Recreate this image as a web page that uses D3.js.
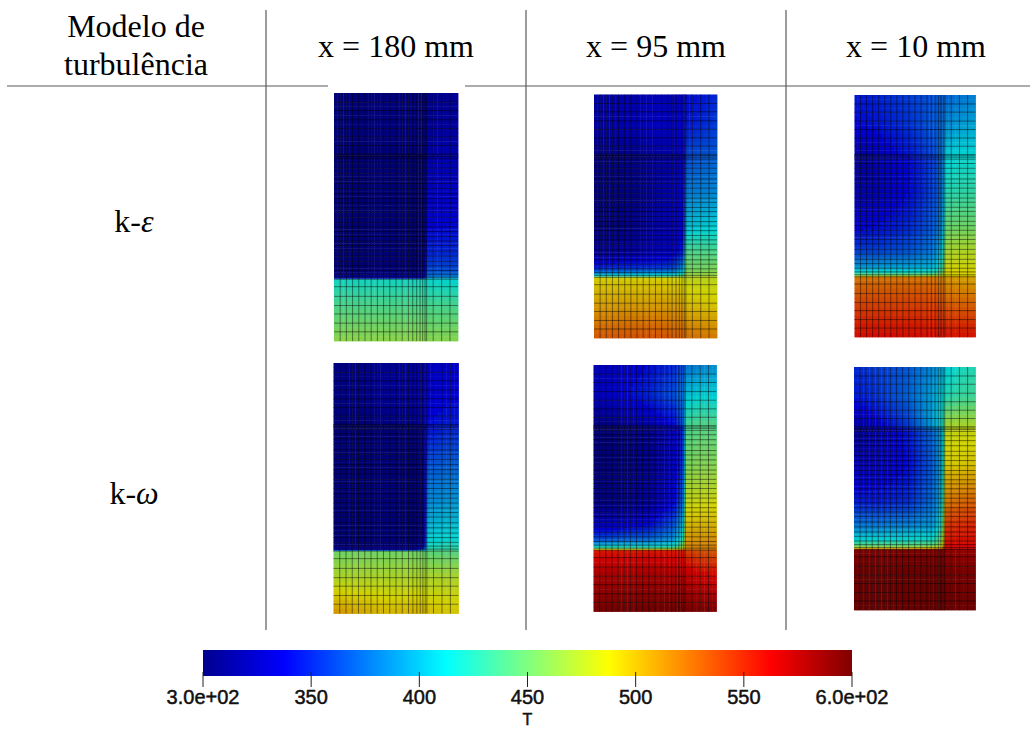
<!DOCTYPE html>
<html>
<head>
<meta charset="utf-8">
<script src="https://cdn.jsdelivr.net/npm/d3@7"></script>
<style>
    html, body { margin: 0; padding: 0; background: #fff; }
    svg { display: block; }
    .head { font-family: "Liberation Serif", serif; font-size: 32px; fill: #000; text-anchor: middle; }
    .bar-label { font-family: "Liberation Sans", sans-serif; font-size: 20px; fill: #111; stroke: #111; stroke-width: .5; text-anchor: middle; }
    .bar-title { font-size: 16px; }
</style>
</head>
<body>
<svg id="chart" width="1030" height="729"></svg>
<script>
(function () {
    "use strict";

    var columnTitles = ['x = 180 mm', 'x = 95 mm', 'x = 10 mm'];
    var modelNames = ['k-', 'k-'];
    var modelSymbols = ['ε', 'ω'];

    var barTicks = [300, 350, 400, 450, 500, 550, 600];
    var barTickLabels = ['3.0e+02', '350', '400', '450', '500', '550', '6.0e+02'];
    var barTitle = 'T';
    var jetValues = [300, 337.5, 412.5, 487.5, 562.5, 600];
    var jetColors = ['#00008f', '#0000ff', '#00ffff', '#ffff00', '#ff0000', '#800000'];

    // mesh edges, 0..1 across and down the section
    var meshX = [0, .05, .1, .15, .2, .25, .3, .35, .4, .45, .5, .55, .6, .635, .667, .694, .715, .734, .747, .8, .868, .935, 1];
    var meshY = [0, .037, .071, .108, .143, .178, .212, .246, .251, .257, .265, .283, .303, .324, .347, .365, .385, .406,
        .426, .443, .464, .481, .501, .522, .54, .559, .579, .597, .615, .638, .658, .679, .697, .716, .731, .743, .751,
        .781, .82, .857, .891, .928, .963, 1];

    // where the temperatures below were read
    var readX = [0, .2, .45, .65, .72, .76, .87, 1];
    var readY = [0, .12, .24, .26, .4, .55, .65, .71, .735, .745, .755, .85, 1];

    var tempKe180 = [
        [302, 302, 302, 305, 305, 308, 310, 312],
        [302, 302, 303, 306, 306, 310, 314, 316],
        [300, 300, 300, 303, 305, 318, 322, 322],
        [300, 300, 300, 300, 301, 322, 325, 325],
        [300, 300, 300, 300, 301, 330, 330, 332],
        [300, 300, 300, 300, 301, 340, 340, 342],
        [300, 300, 300, 300, 302, 350, 352, 352],
        [301, 301, 301, 302, 305, 362, 362, 362],
        [308, 308, 308, 310, 318, 372, 375, 375],
        [322, 322, 322, 325, 335, 385, 392, 392],
        [420, 420, 420, 420, 420, 416, 414, 414],
        [438, 438, 438, 438, 438, 436, 436, 436],
        [462, 462, 462, 462, 462, 460, 460, 460]
    ];
    var tempKe95 = [
        [318, 322, 325, 325, 330, 340, 345, 352],
        [316, 322, 328, 330, 335, 345, 350, 358],
        [305, 310, 315, 325, 330, 360, 365, 368],
        [302, 305, 312, 320, 325, 362, 368, 372],
        [300, 304, 310, 326, 333, 380, 382, 385],
        [302, 306, 315, 326, 335, 405, 410, 412],
        [312, 318, 322, 332, 350, 440, 440, 440],
        [345, 350, 352, 358, 385, 452, 452, 455],
        [385, 388, 392, 395, 420, 460, 460, 462],
        [420, 420, 420, 425, 445, 470, 470, 472],
        [490, 490, 490, 488, 485, 480, 478, 478],
        [505, 505, 505, 505, 503, 495, 492, 490],
        [532, 534, 536, 532, 530, 525, 522, 520]
    ];
    var tempKe10 = [
        [345, 350, 358, 365, 368, 372, 378, 382],
        [338, 345, 355, 368, 372, 385, 392, 396],
        [320, 330, 345, 362, 375, 408, 412, 412],
        [312, 325, 340, 358, 372, 410, 415, 415],
        [322, 325, 340, 360, 375, 425, 428, 430],
        [338, 342, 352, 368, 385, 450, 452, 452],
        [360, 362, 368, 380, 405, 472, 475, 475],
        [390, 392, 395, 400, 425, 485, 485, 485],
        [420, 420, 420, 425, 445, 490, 490, 490],
        [455, 455, 455, 458, 470, 488, 488, 488],
        [522, 522, 522, 522, 518, 510, 506, 505],
        [538, 538, 538, 538, 535, 528, 526, 525],
        [560, 560, 560, 560, 560, 558, 558, 558]
    ];
    var tempKw180 = [
        [305, 308, 312, 318, 322, 328, 332, 335],
        [305, 308, 312, 316, 322, 330, 335, 338],
        [300, 302, 304, 312, 320, 340, 345, 345],
        [300, 300, 300, 303, 312, 342, 348, 350],
        [300, 300, 300, 300, 305, 365, 368, 370],
        [300, 300, 300, 300, 305, 385, 388, 390],
        [300, 300, 300, 300, 308, 400, 405, 405],
        [300, 300, 300, 302, 315, 412, 415, 415],
        [305, 305, 305, 310, 330, 420, 425, 425],
        [325, 325, 325, 330, 370, 430, 430, 432],
        [452, 452, 452, 452, 450, 445, 443, 443],
        [472, 472, 472, 472, 472, 472, 472, 472],
        [510, 505, 498, 502, 500, 497, 494, 494]
    ];
    var tempKw95 = [
        [325, 330, 340, 350, 360, 378, 382, 388],
        [325, 335, 350, 365, 375, 405, 410, 410],
        [302, 310, 325, 340, 360, 435, 440, 440],
        [300, 302, 312, 328, 345, 438, 442, 442],
        [300, 302, 310, 328, 350, 455, 458, 458],
        [303, 305, 315, 335, 365, 480, 482, 484],
        [325, 330, 340, 365, 395, 498, 500, 500],
        [365, 370, 375, 390, 420, 510, 512, 514],
        [405, 410, 410, 420, 450, 515, 518, 518],
        [455, 455, 455, 460, 480, 512, 515, 515],
        [555, 555, 555, 555, 552, 540, 535, 532],
        [578, 578, 578, 578, 578, 570, 562, 560],
        [596, 598, 598, 600, 600, 596, 594, 594]
    ];
    var tempKw10 = [
        [352, 358, 368, 385, 395, 408, 420, 425],
        [345, 355, 372, 395, 408, 425, 432, 435],
        [318, 335, 358, 395, 415, 470, 472, 472],
        [312, 325, 345, 375, 395, 480, 482, 482],
        [325, 328, 340, 370, 395, 492, 492, 495],
        [345, 345, 352, 375, 400, 520, 525, 528],
        [378, 378, 382, 390, 420, 545, 548, 550],
        [412, 412, 415, 420, 450, 555, 558, 558],
        [445, 445, 447, 450, 470, 560, 560, 560],
        [480, 480, 480, 485, 500, 565, 565, 565],
        [592, 592, 592, 592, 592, 588, 585, 585],
        [600, 600, 600, 600, 600, 598, 596, 596],
        [600, 600, 600, 600, 600, 600, 600, 600]
    ];

    var svg = d3.select('#chart');

    // the sections in the source are resampled screenshots, so slightly soft
    svg.append('defs').append('filter')
        .attr('id', 'soft')
        .append('feGaussianBlur')
        .attr('stdDeviation', .4);

    var colorOf = d3.scaleLinear().domain(jetValues).range(jetColors).clamp(true);
    var readXIndex = d3.scaleLinear().domain(readX).range(d3.range(readX.length)).clamp(true);
    var readYIndex = d3.scaleLinear().domain(readY).range(d3.range(readY.length)).clamp(true);

    var tempAt = function (table, u, v) {
        var fx = readXIndex(u);
        var fy = readYIndex(v);
        var i = Math.min(Math.floor(fx), readX.length - 2);
        var j = Math.min(Math.floor(fy), readY.length - 2);
        var top = d3.interpolateNumber(table[j][i], table[j][i + 1])(fx - i);
        var bottom = d3.interpolateNumber(table[j + 1][i], table[j + 1][i + 1])(fx - i);
        return d3.interpolateNumber(top, bottom)(fy - j);
    };

    var drawSection = function (table, box) {
        var x = d3.scaleLinear().domain([0, 1]).range([box[0], box[1]]);
        var y = d3.scaleLinear().domain([0, 1]).range([box[2], box[3]]);
        var $section = svg.append('g').attr('class', 'section').attr('filter', 'url(#soft)');

        // each mesh cell is split in two both ways so the shading stays soft
        var cells = [];
        meshY.slice(1).forEach(function (yEnd, j) {
            var yMid = (meshY[j] + yEnd) / 2;
            [[meshY[j], yMid], [yMid, yEnd]].forEach(function (vSpan) {
                meshX.slice(1).forEach(function (xEnd, i) {
                    var xMid = (meshX[i] + xEnd) / 2;
                    [[meshX[i], xMid], [xMid, xEnd]].forEach(function (uSpan) {
                        cells.push({u: uSpan, v: vSpan});
                    });
                });
            });
        });

        $section.selectAll('rect.cell').data(cells).enter().append('rect')
            .attr('class', 'cell')
            .attr('x', function (d) { return x(d.u[0]); })
            .attr('y', function (d) { return y(d.v[0]); })
            .attr('width', function (d) { return x(d.u[1]) - x(d.u[0]) + .4; })
            .attr('height', function (d) { return y(d.v[1]) - y(d.v[0]) + .4; })
            .attr('fill', function (d) {
                var c = d3.rgb(colorOf(tempAt(table, (d.u[0] + d.u[1]) / 2, (d.v[0] + d.v[1]) / 2)));
                return c.darker(.55);
            });

        $section.selectAll('line.mx').data(meshX.slice(1, -1)).enter().append('line')
            .attr('class', 'mx')
            .attr('x1', function (d) { return x(d); })
            .attr('x2', function (d) { return x(d); })
            .attr('y1', y(0))
            .attr('y2', y(1));
        $section.selectAll('line.my').data(meshY.slice(1, -1)).enter().append('line')
            .attr('class', 'my')
            .attr('x1', x(0))
            .attr('x2', x(1))
            .attr('y1', function (d) { return y(d); })
            .attr('y2', function (d) { return y(d); });
        $section.selectAll('line')
            .attr('stroke', '#000')
            .attr('stroke-opacity', .45)
            .attr('stroke-width', 1);
    };

    var drawTable = function () {
        var $grid = svg.append('g').attr('stroke', '#5a5a5a').attr('stroke-width', 1.2);
        [266, 526, 786].forEach(function (gx) {
            $grid.append('line').attr('x1', gx).attr('x2', gx).attr('y1', 10).attr('y2', 630);
        });
        $grid.append('line').attr('x1', 7).attr('x2', 328).attr('y1', 86).attr('y2', 86);
        $grid.append('line').attr('x1', 465).attr('x2', 1030).attr('y1', 86).attr('y2', 86);

        svg.append('text').attr('class', 'head').attr('x', 136).attr('y', 37).text('Modelo de');
        svg.append('text').attr('class', 'head').attr('x', 136).attr('y', 75).text('turbulência');

        [396, 656, 916].forEach(function (cx, i) {
            svg.append('text').attr('class', 'head').attr('x', cx).attr('y', 57).text(columnTitles[i]);
        });

        [232, 504].forEach(function (ty, i) {
            var $t = svg.append('text').attr('class', 'head').attr('x', 134).attr('y', ty);
            $t.append('tspan').text(modelNames[i]);
            $t.append('tspan').attr('font-style', 'italic').text(modelSymbols[i]);
        });
    };

    var drawColorBar = function () {
        var x = d3.scaleLinear().domain([300, 600]).range([203, 852]);
        var grad = svg.select('defs').append('linearGradient').attr('id', 'jet');
        jetValues.forEach(function (v, i) {
            grad.append('stop')
                .attr('offset', (v - 300) / 300)
                .attr('stop-color', jetColors[i]);
        });
        svg.append('rect')
            .attr('x', x(300)).attr('y', 650)
            .attr('width', x(600) - x(300)).attr('height', 26)
            .attr('fill', 'url(#jet)');

        var $ticks = svg.append('g').selectAll('g').data(barTicks).enter().append('g')
            .attr('transform', function (d) { return 'translate(' + x(d) + ',0)'; });
        $ticks.append('line')
            .attr('y1', 672).attr('y2', 687)
            .attr('stroke', '#222').attr('stroke-width', 1);
        $ticks.append('text')
            .attr('class', 'bar-label')
            .attr('y', 704)
            .text(function (d, i) { return barTickLabels[i]; });

        svg.append('text').attr('class', 'bar-label bar-title').attr('x', x(450)).attr('y', 725).text(barTitle);
    };

    drawTable();
    drawSection(tempKe180, [334, 458, 93, 341]);
    drawSection(tempKe95, [594, 717, 94.5, 338]);
    drawSection(tempKe10, [854.5, 975.5, 95, 337]);
    drawSection(tempKw180, [333.5, 458.5, 363, 613.5]);
    drawSection(tempKw95, [593.5, 716.5, 365, 611.5]);
    drawSection(tempKw10, [854, 975.5, 367, 610]);
    drawColorBar();
})();
</script>
</body>
</html>
